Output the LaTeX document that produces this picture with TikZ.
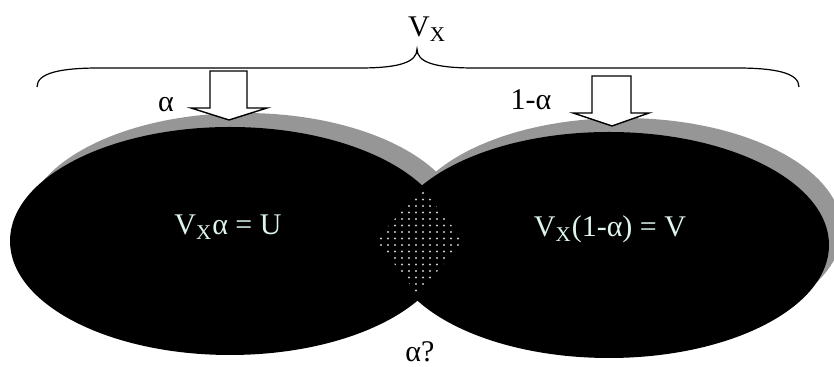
\documentclass[tikz,border=0pt]{standalone}
\usepackage{fontspec}
\setmainfont{Liberation Serif}
\definecolor{shadowgray}{RGB}{150,150,150}
\definecolor{mintwhite}{RGB}{222,245,238}
\definecolor{dotgray}{RGB}{205,205,205}

\begin{document}
\begin{tikzpicture}[x=0.5pt,y=0.5pt,
    every node/.style={font=\fontsize{15}{18}\selectfont,inner sep=0pt},
    blob/.style={fill=black},
    blobshadow/.style={fill=shadowgray},
    hollowarrow/.style={draw=black,fill=white,line width=0.7pt,line join=miter},
    label/.style={anchor=base},
    intext/.style={anchor=base,text=mintwhite}]
  \useasboundingbox (0,0) rectangle (834,367);
  % shadows
  \fill[blobshadow] (244,141) ellipse [x radius=219,y radius=113];
  \fill[blobshadow] (623,137) ellipse [x radius=219,y radius=112];
  % the two sets
  \fill[blob] (230,126) ellipse [x radius=220,y radius=114];
  \fill[blob] (609,122) ellipse [x radius=220,y radius=113];
  % dotted overlap
  \begin{scope}
    \clip (422,179) -- (463,127) -- (418,72) -- (376,127) -- cycle;
    \foreach \i in {0,...,13}
      \foreach \j in {0,...,17}
        \fill[dotgray] (374+7*\i,70+6.5*\j) circle (1.1);
  \end{scope}
  \node[intext] (setU) at (228,132) {V\textsubscript{X}α = U};
  \node[intext] (setV) at (610,130) {V\textsubscript{X}(1-α) = V};
  % brace
  \draw[line width=0.6pt] (37,280) .. controls (37,294) and (60,299) .. (100,299)
    -- (360,299) .. controls (400,299) and (417,305) .. (417,318)
    .. controls (417,305) and (434,299) .. (474,299) -- (736,299)
    .. controls (776,299) and (799,294) .. (799,280);
  \node[label] (total) at (427,330) {V\textsubscript{X}};
  % block arrows
  \draw[hollowarrow] (210,296) -- (210,259) -- (191,259) -- (229,247)
    -- (267,259) -- (247,259) -- (247,296) -- cycle;
  \draw[hollowarrow] (592,291) -- (592,254) -- (573,254) -- (612,241)
    -- (649,254) -- (631,254) -- (631,291) -- cycle;
  \node[label] (alpha) at (166,255) {α};
  \node[label] (rest) at (531,257) {1-α};
  \node[label] (query) at (420,5) {α?};
\end{tikzpicture}
\end{document}
